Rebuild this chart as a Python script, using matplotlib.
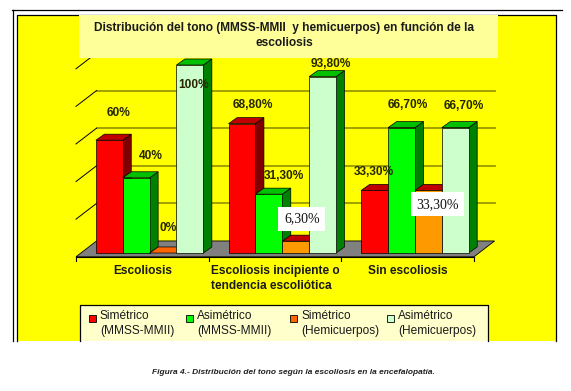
import numpy as np
import matplotlib.pyplot as plt
from matplotlib.patches import Polygon, Rectangle

plt.rcParams['font.family'] = ['Liberation Sans', 'DejaVu Sans']

categories = ["Escoliosis", "Escoliosis incipiente o\ntendencia escoliótica", "Sin escoliosis"]
series_names = ["Simétrico\n(MMSS-MMII)", "Asimétrico\n(MMSS-MMII)",
                "Simétrico\n(Hemicuerpos)", "Asimétrico\n(Hemicuerpos)"]
sim_mmss = [60, 68.8, 33.3]
asim_mmss = [40, 31.3, 66.7]
sim_hemi = [0, 6.3, 33.3]
asim_hemi = [100, 93.8, 66.7]
series = [sim_mmss, asim_mmss, sim_hemi, asim_hemi]

# front / top / side colours of each series
front_colors = ['#ff0000', '#00ff00', '#ff9900', '#ccffcc']
top_colors = ['#c00000', '#00c000', '#c00000', '#00c000']
side_colors = ['#800000', '#008000', '#995c00', '#008000']
legend_colors = ['#ff0000', '#00ff00', '#ff6600', '#ccffcc']

# label offsets in pixels (dx, dy) per series / group
label_offsets = [
    [(9, 27), (11, 19), (-1, 18)],
    [(15, 22), (15, 18), (6, 23)],
    [(5, 25), (6, 22), (9, -14)],
    [(4, -20), (8, 13), (9, 22)],
]
boxed = [(2, 1), (2, 2)]

W, H = 571, 391
fig = plt.figure(figsize=(W / 100, H / 100), dpi=100)
fig.patch.set_facecolor('white')

# background layer in pixel coordinates
bg = fig.add_axes([0, 0, 1, 1], zorder=0)
bg.set_xlim(0, W)
bg.set_ylim(H, 0)
bg.axis('off')
bg.add_patch(Rectangle((17, 15), 539, 326, facecolor='#ffff00', edgecolor='none'))
bg.plot([12, 562], [10, 10], color='black', lw=0.9)
bg.plot([12.5, 12.5], [10, 341], color='black', lw=0.9)
bg.plot([17, 17, 555.5, 555.5], [341, 15, 15, 341], color='black', lw=0.9)

# main chart: front plane, x in categories, y in percent
ax = fig.add_axes([76 / W, (H - 253) / H, 398 / W, 188 / H], zorder=1)
ax.set_xlim(0, 3)
ax.set_ylim(0, 100)
ax.axis('off')

back_dx, back_dy = 0.155, 6.4
floor_y = -2.0

# back wall gridlines and side wall diagonals
for k in range(1, 6):
    yb = back_dy + 20 * k
    ax.plot([back_dx, 3 + back_dx], [yb, yb], color='#9a9a00', lw=1.3, clip_on=False, zorder=1)
    ax.plot([0, back_dx], [20 * k + floor_y, yb], color='black', lw=0.7, clip_on=False, zorder=1)

# floor
floor = Polygon([(0, floor_y), (3, floor_y), (3 + back_dx, back_dy), (back_dx, back_dy)],
                closed=True, facecolor='#808080', edgecolor='black', lw=0.6, clip_on=False, zorder=2)
ax.add_patch(floor)

# axis line and ticks
ax.plot([0, 3], [floor_y, floor_y], color='black', lw=0.8, clip_on=False, zorder=3)
for k in range(4):
    ax.plot([k, k], [floor_y, floor_y - 2.5], color='black', lw=0.8, clip_on=False, zorder=3)

for g, cat in enumerate(categories):
    ax.text(g + 0.5, -6.3, cat, ha='center', va='top', fontsize=8.6, fontweight='bold',
            linespacing=1.3, multialignment='left', color='#1a1a1a', clip_on=False)

bar_w = 0.2025
ddx, ddy = 0.064, 3.2
z = 4
for g in range(3):
    for s in range(4):
        v = series[s][g]
        x0 = g + 0.15 + s * bar_w
        top_c = top_colors[s] if v > 0 else legend_colors[s]
        faces = [
            ([(x0 + bar_w, 0), (x0 + bar_w + ddx, ddy), (x0 + bar_w + ddx, v + ddy), (x0 + bar_w, v)], side_colors[s]),
            ([(x0, v), (x0 + bar_w, v), (x0 + bar_w + ddx, v + ddy), (x0 + ddx, v + ddy)], top_c),
        ]
        if v > 0:
            faces.append(([(x0, 0), (x0 + bar_w, 0), (x0 + bar_w, v), (x0, v)], front_colors[s]))
        for pts, c in faces:
            ax.add_patch(Polygon(pts, closed=True, facecolor=c, edgecolor='black', lw=0.5,
                                 clip_on=False, zorder=z))
        z += 1

# data labels
for s in range(4):
    for g in range(3):
        v = series[s][g]
        txt = f"{int(v)}%" if float(v).is_integer() else f"{v:.2f}%".replace('.', ',')
        xc = g + 0.15 + s * bar_w + bar_w / 2
        dx, dy = label_offsets[s][g]
        if (s, g) in boxed:
            ax.annotate(txt, (xc, v), xytext=(dx, dy), textcoords='offset pixels',
                        ha='center', va='center', fontsize=10, family='Liberation Serif',
                        color='#111111', zorder=60,
                        bbox=dict(boxstyle='square,pad=0.4', facecolor='white', edgecolor='none'))
        else:
            ax.annotate(txt, (xc, v), xytext=(dx, dy), textcoords='offset pixels',
                        ha='center', va='center', fontsize=8.6, fontweight='bold',
                        color='#262600', zorder=60)

# foreground layer: title box, legend, caption
fg = fig.add_axes([0, 0, 1, 1], zorder=2)
fg.set_xlim(0, W)
fg.set_ylim(H, 0)
fg.axis('off')
fg.add_patch(Rectangle((79, 15), 419, 43, facecolor='#ffff99', edgecolor='none'))
fg.text(284, 35.5, "Distribución del tono (MMSS-MMII  y hemicuerpos) en función de la\nescoliosis",
        ha='center', va='center', fontsize=8.6, fontweight='bold', linespacing=1.4, color='#1a1a1a')

fg.add_patch(Rectangle((80, 305), 408, 36, facecolor='#ffffcc', edgecolor='none'))
fg.plot([80, 80, 488, 488], [341, 305, 305, 341], color='black', lw=0.9)
marker_x = [89, 186, 290, 387]
for i, name in enumerate(series_names):
    fg.add_patch(Rectangle((marker_x[i], 315), 7, 7, facecolor=legend_colors[i],
                           edgecolor='black', lw=0.6))
    fg.text(marker_x[i] + 11, 323.5, name, ha='left', va='center', fontsize=8.6,
            linespacing=1.35, color='#1a1a1a')

fg.text(293.5, 373, "Figura 4.- Distribución del tono según la escoliosis en la encefalopatía.",
        ha='center', va='center', fontsize=6.0, fontweight='bold', fontstyle='italic', color='#222222')

fig.savefig('out.png', dpi=100)
